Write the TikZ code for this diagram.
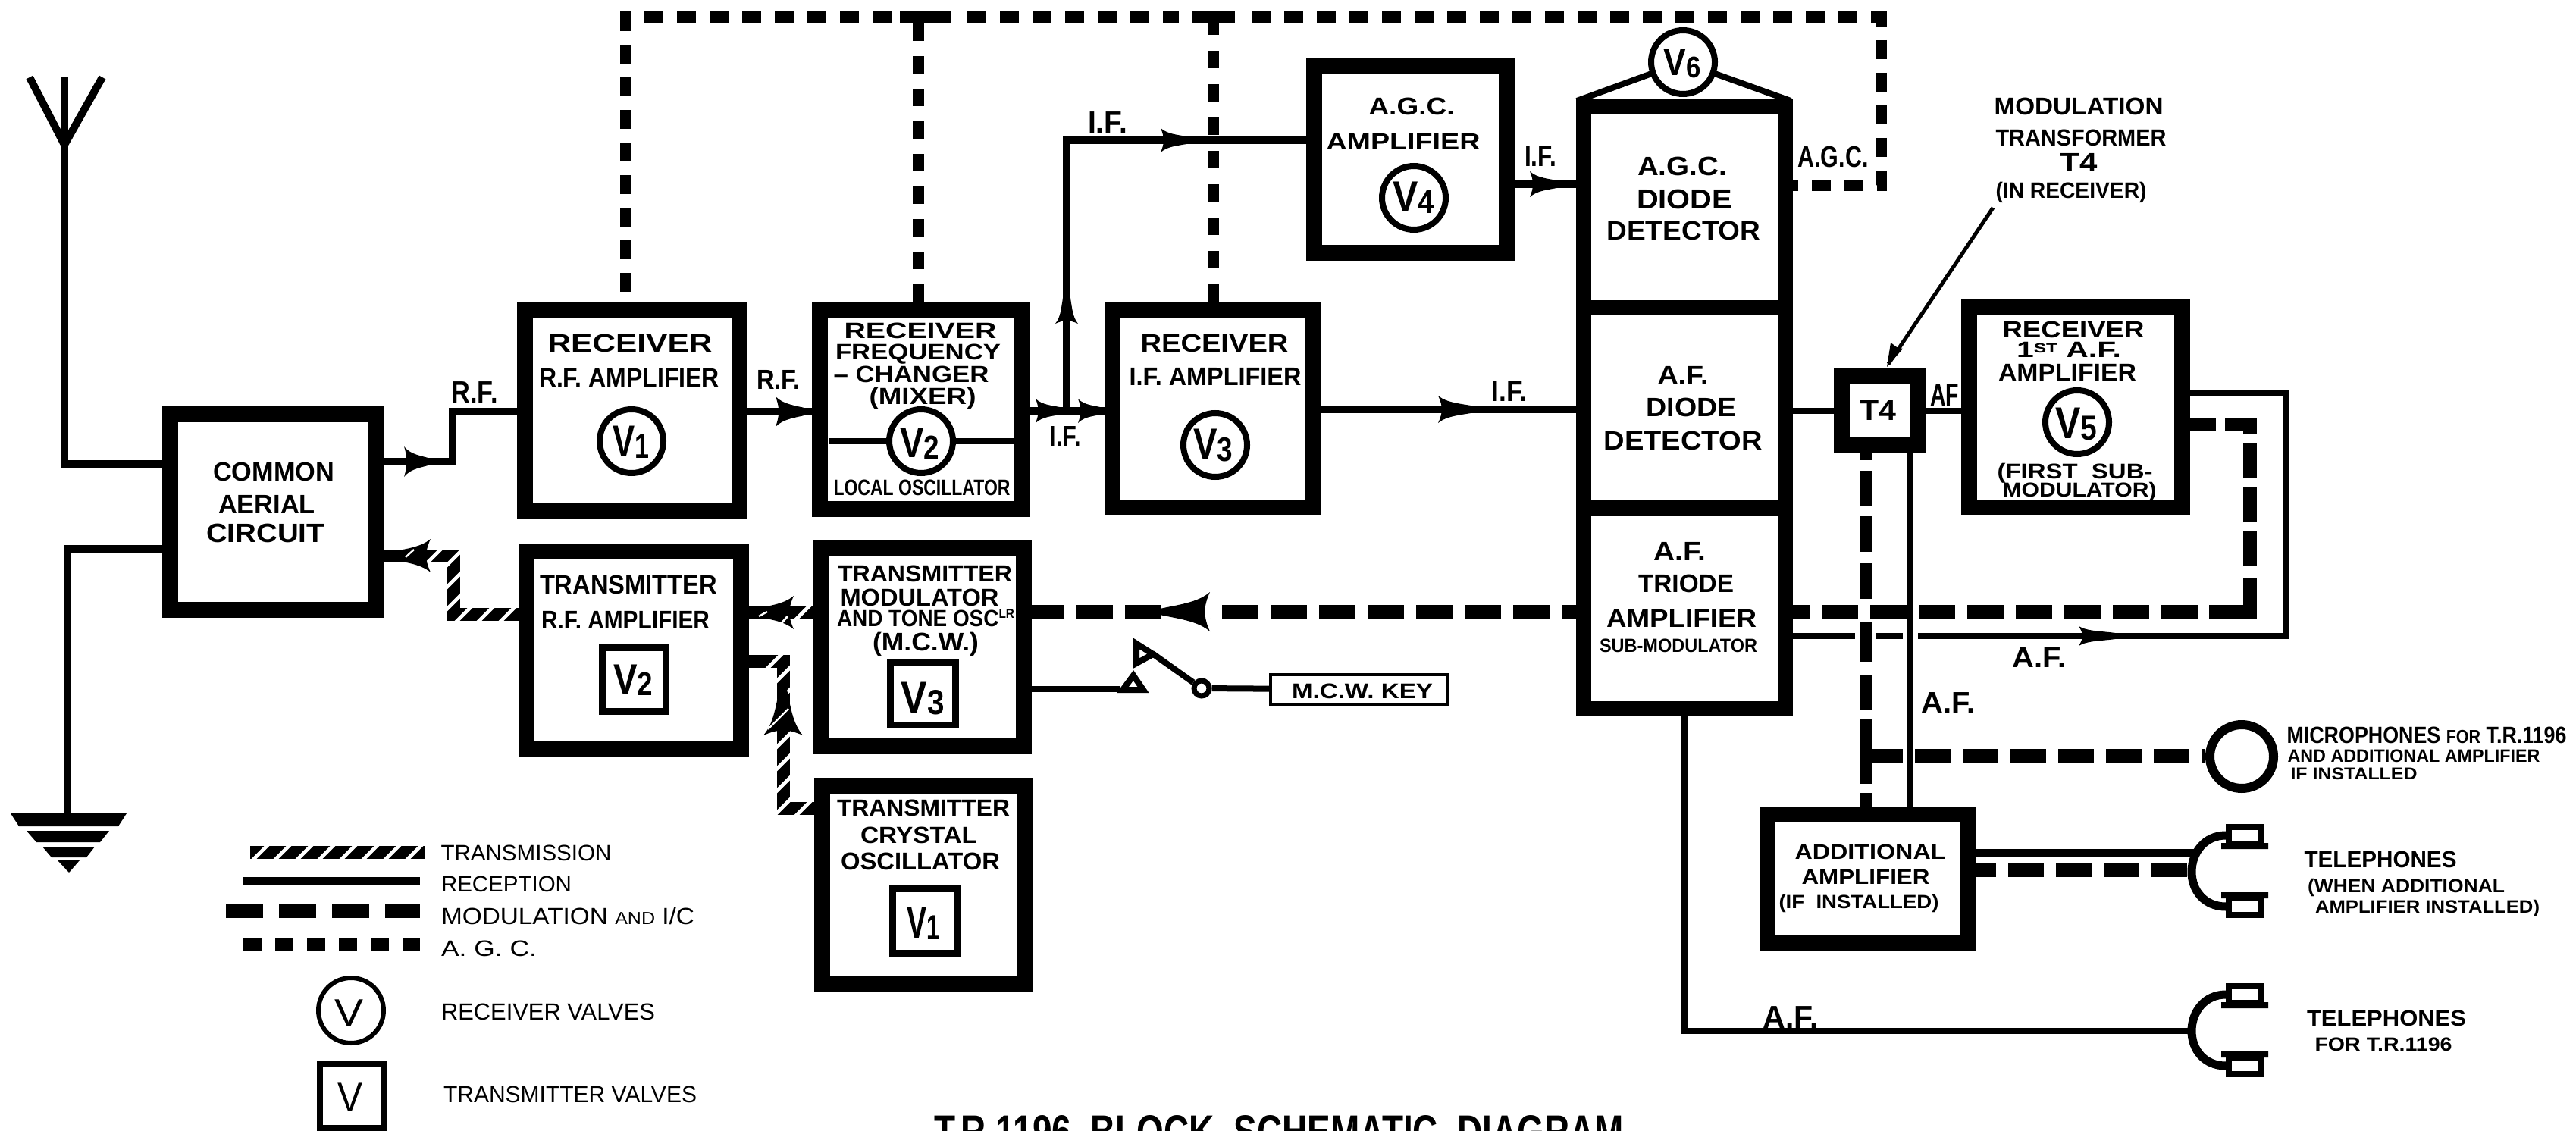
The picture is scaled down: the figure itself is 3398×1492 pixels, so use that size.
\documentclass[tikz,border=0pt]{standalone}
\usepackage{fontspec}
\usepackage{graphicx}
\setmainfont{Liberation Sans}
\usetikzlibrary{calc,decorations.markings}
\newsavebox\lbbox
\newcommand\wt[3]{\pgfmathsetmacro\fsz{#2*0.7}\sbox\lbbox{\fontsize{\fsz pt}{\fsz pt}\selectfont #3}\pgfmathsetmacro\sx{#1*0.5/\the\wd\lbbox}\scalebox{\sx}[1]{\usebox\lbbox}}
% label: [style]{name}{cx}{cy}{w}{h}{text}
\newcommand\lb[7][lbl]{\node[#1] (#2) at ({#3},{#4+#6/2}) {\wt{#5}{#6}{#7}};}
\newcommand\dg[1]{\raisebox{-.05em}{\scalebox{.78}{#1}}}
% box: [opts]{name}{x1}{y1}{x2}{y2}{border}
\newcommand\bx[7][]{\pgfmathsetmacro\bw{(#5-#3-#7)*.5}\pgfmathsetmacro\bh{(#6-#4-#7)*.5}\pgfmathsetmacro\bl{#7*.5}\node[blk,line width=\bl pt,minimum width=\bw pt,minimum height=\bh pt,#1] (#2) at ({(#3+#5)/2},{(#4+#6)/2}) {};}
\newcommand\vc[3]{\node[valve] (#1) at (#2,#3) {};}
% arrow head: tip x, tip y, angle, length, half width
\newcommand\arh[5]{\fill[shift={(#1,#2)},rotate=#3] (0,-4) .. controls ({-.35*#4},{-.2*#5-4}) and ({-.75*#4},{-.45*#5}) .. ({-#4},{-#5}) .. controls ({-.93*#4},{-.6*#5}) and ({-.9*#4},{-.3*#5}) .. ({-.9*#4},0) .. controls ({-.9*#4},{.3*#5}) and ({-.93*#4},{.6*#5}) .. ({-#4},{#5}) .. controls ({-.75*#4},{.45*#5}) and ({-.35*#4},{.2*#5+4}) .. (0,4) -- cycle;}
\newcommand\tel[2]{%
  \fill (2930,{#2-38}) rectangle (2992,{#2-30}) (2930,{#2+27}) rectangle (2992,{#2+35});
  \node[earbox] (#1u) at (2961,{#2-48}) {};
  \node[earbox] (#1d) at (2961,{#2+46}) {};
  \coordinate (#1c) at (2891,#2);
  \draw[line width=5.5pt] (#1u.west) .. controls (2908,{#2-48}) and (2891,{#2-25}) .. (#1c) .. controls (2891,{#2+25}) and (2908,{#2+46}) .. (#1d.west);
}
\tikzset{
  blk/.style={draw,fill=white,rectangle,inner sep=0pt},
  valve/.style={draw,fill=white,circle,inner sep=0pt,minimum size=42pt,line width=4pt},
  earbox/.style={draw,fill=white,rectangle,inner sep=0pt,minimum width=21pt,minimum height=11pt,line width=4pt},
  lbl/.style={inner sep=0pt,anchor=base,font=\bfseries},
  lgt/.style={inner sep=0pt,anchor=base},
  rx/.style={line width=5pt},
  thin line/.style={line width=4pt,line cap=butt},
  agc/.style={line width=7.5pt,line cap=butt,dash pattern=on 12.5pt off 9pt},
  agcbar/.style={line width=7.5pt,line cap=butt},
  mod/.style={line width=9pt,line cap=butt,dash pattern=on 24pt off 8pt},
  modbar/.style={line width=9pt,line cap=butt},
  txline/.style={line width=8.5pt,line cap=butt,postaction={decorate},decoration={markings,mark=between positions 7pt and -7pt step 14.5pt with {\pgftransformresetnontranslations\draw[white,line width=2.4pt] (-11,11)--(11,-11);}}},
}
\begin{document}
\begin{tikzpicture}[x=0.5pt,y=-0.5pt,line cap=butt]
\useasboundingbox (0,0) rectangle (3398,1492);
\clip (0,0) rectangle (3398,1492);
\fill[white] (0,0) rectangle (3398,1492);
%----- blocks
\bx{ca}{214}{536}{506}{815}{21}
\bx{rfa}{682}{399}{986}{684}{21}
\bx{chg}{1071}{398}{1359}{682}{21}
\bx{ifa}{1457}{398}{1743}{680}{21}
\bx{agca}{1723}{76}{1998}{344}{21}
\bx{txrf}{684}{717}{988}{998}{21}
\bx{txmod}{1073}{713}{1361}{995}{21}
\bx{xtal}{1074}{1026}{1362}{1308}{21}
\bx{tfour}{2419}{486}{2541}{597}{21}
\bx{vfive}{2587}{394}{2889}{680}{21}
\bx{addamp}{2322}{1065}{2606}{1254}{20}
\bx[line width=2pt]{key}{1674}{888}{1912}{931}{4}
% stack with V6 roof
\coordinate (roofl) at (2080,133);
\coordinate (roofr) at (2362,133);
\coordinate (vsixc) at (2220,82);
\draw[line width=4pt] (roofl) -- (vsixc) -- (roofr);
\bx{agcdet}{2079}{131}{2365}{416}{20}
\bx{afdet}{2079}{396}{2365}{679}{20}
\bx{triode}{2079}{661}{2365}{945}{20}
\vc{vsix}{2220}{82}
%----- valve symbols
\draw[line width=4pt] (1094,582) -- (1339,582);
\vc{vone}{833}{582}
\vc{vtwo}{1215}{582}
\vc{vthree}{1603}{587}
\vc{vfour}{1865}{261}
\vc{vfiv}{2740}{557}
\bx{stwo}{790}{850}{883}{943}{9}
\bx{sthree}{1170}{869}{1265}{961}{9}
\bx{sone}{1173}{1168}{1267}{1262}{9}
%----- aerial and earth
\coordinate (aertop) at (85,102);
\coordinate (aerl) at (39,102);
\coordinate (aerr) at (135,102);
\coordinate (aerj) at (85,191);
\coordinate (earthtop) at (89,1073);
\draw[line width=5pt] (aerl) -- (aerj) -- (aerr);
\draw[line width=5pt] (aertop) -- (aerj) |- (ca.west |- 0,612);
\draw[rx] (ca.west |- 0,724) -| (earthtop);
\fill (14,1073) -- (167,1073) -- (156,1090) -- (25,1090) -- cycle;
\fill (35,1096) -- (144,1096) -- (132,1111) -- (48,1111) -- cycle;
\fill (56,1117) -- (125,1117) -- (114,1131) -- (68,1131) -- cycle;
\fill (76,1135) -- (105,1135) -- (91,1151) -- cycle;
%----- reception connectors
\coordinate (rfj) at (597,609);
\draw[rx] (ca.east |- 0,609) -- (rfj) |- (rfa.west |- 0,543);
\arh{568}{609}{0}{35}{20}
\draw[rx] (rfa.east |- 0,543) -- (chg.west |- 0,543);
\arh{1065}{543}{0}{42}{20}
\draw[rx] (chg.east |- 0,542) -- (ifa.west |- 0,542);
\arh{1402}{542}{0}{36}{16}
\arh{1455}{542}{0}{33}{16}
\coordinate (ifj) at (1407,542);
\coordinate (ifc) at (1407,185);
\draw[rx] (ifj) -- (ifc) -- (agca.west |- ifc);
\arh{1407}{388}{90}{39}{15}
\arh{1570}{185}{0}{39}{16}
\draw[rx] (agca.east |- 0,243) -- (agcdet.west |- 0,243);
\arh{2058}{243}{0}{40}{17}
\draw[rx] (ifa.east |- 0,540) -- (afdet.west |- 0,540);
\arh{1945}{540}{0}{48}{18}
\draw[thin line] (afdet.east |- 0,542) -- (tfour.west |- 0,542);
\draw[thin line] (tfour.east |- 0,542) -- (vfive.west |- 0,542);
\coordinate (afc) at (3016,839);
\draw[thin line,dash pattern=on 41pt off 14pt on 17.5pt off 10pt on 600pt off 1pt] (triode.east |- 0,839) -- (afc) |- (vfive.east |- 0,518);
\arh{2790}{839}{0}{48}{13}
\coordinate (tfl) at (2519,597);
\draw[thin line] (tfl) -- (tfl |- addamp.north);
\tel{telb}{1150}
\tel{telc}{1360}
\draw[thin line] (triode.south) |- (telcc);
\coordinate (telbj) at (2897,1125);
\draw[rx] (addamp.east |- telbj) -- (telbj);
%----- A.G.C. ring
\coordinate (agctl) at (825,23);
\coordinate (agctr) at (2481,23);
\coordinate (agcbr) at (2481,245);
\coordinate (jla) at (1187,23);
\coordinate (jlb) at (1254,23);
\coordinate (jlm) at (1211,23);
\coordinate (jlc) at (1276,23);
\coordinate (jld) at (1555,23);
\coordinate (jra) at (1572,23);
\coordinate (jrb) at (1629,23);
\coordinate (jrc) at (1651,23);
\draw[agc,dash phase=14.5pt] (agctl |- rfa.north) -- (agctl) -- (jla);
\draw[agcbar] (jla) -- (jlb);
\draw[agc,dash pattern=on 11.5pt off 10pt] (jlm |- chg.north) -- (jlm);
\draw[agc] (jlc) -- (jld);
\draw[agcbar] (jra) -- (jrb);
\draw[agc,dash pattern=on 11.5pt off 10.5pt] (ifa.north) -- (ifa.north |- jra);
\draw[agc] (jrc) -- (agctr) -- (agcbr) -- (agcdet.east |- agcbr);
%----- modulation lines
\coordinate (modc) at (2968,807);
\coordinate (mode) at (2914,807);
\coordinate (modu) at (2968,763);
\coordinate (modv) at (2968,747);
\coordinate (modt) at (2968,560);
\draw[mod,dash phase=14.5pt] (triode.west |- modc) -- (txmod.east |- modc);
\fill[white] (1538,790) rectangle (1596,825);
\arh{1530}{807}{180}{66}{26}
\draw[mod,dash phase=13pt] (triode.east |- modc) -- (mode);
\draw[modbar] (mode) -- (modc) -- (modu);
\draw[mod,dash pattern=on 23pt off 6pt] (modv) -- (modt) -- (vfive.east |- modt);
\coordinate (modva) at (2461,597);
\draw[line width=8.5pt,dash pattern=on 5pt off 7pt on 23.5pt off 6.5pt on 23.5pt off 7.5pt on 23.5pt off 15.5pt on 26pt off 8.5pt on 23pt off 6.5pt on 42.5pt off 6pt on 10pt] (modva) -- (modva |- addamp.north);
\coordinate (micj) at (2463,997);
\node[draw,fill=white,circle,inner sep=0pt,minimum size=42pt,line width=6pt] (mic) at (2957,998) {};
\draw[mod,line width=9.5pt,dash pattern=on 23.5pt off 8pt] (micj) -- (mic.west |- micj);
\coordinate (telbk) at (2893,1148);
\draw[mod,dash pattern=on 23.5pt off 8pt,dash phase=10pt] (addamp.east |- telbk) -- (telbk);
%----- transmission lines
\coordinate (ta) at (598,810);
\coordinate (tb) at (598,733);
\coordinate (tc) at (1033,1066);
\coordinate (td) at (1033,872);
\draw[txline] (txrf.west |- ta) -- (ta) -- (tb) -- (ca.east |- tb);
\draw[txline] (txmod.west |- 0,808) -- (txrf.east |- 0,808);
\draw[txline] (xtal.west |- tc) -- (tc) -- (td) -- (txrf.east |- td);
\arh{510}{733}{180}{58}{22}
\arh{990}{808}{180}{57}{22}
\arh{1033}{905}{90}{65}{26}
\draw[white,line width=1.2pt] (535,735) -- (546,725);
\draw[white,line width=1.2pt] (1001,813) -- (1012,807);
\draw[white,line width=1.4pt] (1030,823) -- (1039,813);
\draw[white,line width=1.2pt] (1013,962) -- (1040,935);
%----- M.C.W. key
\coordinate (swa) at (1477,909);
\node[draw,fill=white,circle,inner sep=0pt,minimum size=10pt,line width=3.5pt] (swc) at (1585,908) {};
\coordinate (swb) at (1520,862);
\draw[line width=4pt] (txmod.east |- swa) -- (swa);
\draw[line width=4pt,line join=miter] (1481,910) -- (1508,910) -- (1495,891) -- cycle;
\draw[line width=4pt,line join=miter] (1499,849) -- (1499,875) -- (1521,863) -- cycle;
\draw[line width=4pt] (swb) -- (swc);
\draw[line width=4pt] (swc) -- (key);
%----- pointer
\coordinate (ptr) at (2629,274);
\draw[line width=2.5pt] (ptr) -- (2491,480);
\fill (2489,484) -- (2494,452) -- (2502,458) -- (2510,460) -- cycle;
%----- labels in blocks
\lb{l1}{361}{622}{160}{25}{COMMON}
\lb{l2}{352}{665}{128}{25}{AERIAL}
\lb{l3}{350}{703}{156}{25}{CIRCUIT}
\lb{l4}{831}{453}{217}{24}{RECEIVER}
\lb{l5}{830}{498}{238}{25}{R.F. AMPLIFIER}
\lb{vl1}{832}{581}{48}{42}{V\dg{1}}
\lb{l6}{829}{771}{234}{25}{TRANSMITTER}
\lb{l7}{825}{817}{222}{24}{R.F. AMPLIFIER}
\lb{vl2}{835}{895}{52}{40}{V\dg{2}}
\lb{l8}{1214}{436}{201}{21}{RECEIVER}
\lb{l9}{1211}{464}{218}{21}{FREQUENCY}
\lb{l10}{1202}{493}{205}{22}{– CHANGER}
\lb{l11}{1217}{522}{141}{22}{(MIXER)}
\lb{vl3}{1213}{583}{52}{40}{V\dg{2}}
\lb{l12}{1216}{643}{233}{21}{LOCAL OSCILLATOR}
\lb{l13}{1602}{452}{195}{24}{RECEIVER}
\lb{l14}{1603}{496}{227}{24}{I.F. AMPLIFIER}
\lb{vl4}{1600}{585}{52}{41}{V\dg{3}}
\lb{l15}{1862}{140}{113}{23}{A.G.C.}
\lb{l16}{1851}{187}{203}{22}{AMPLIFIER}
\lb{vl5}{1865}{259}{55}{40}{V\dg{4}}
\lb{l17}{1220}{756}{230}{22}{TRANSMITTER}
\lb{l18}{1213}{788}{209}{23}{MODULATOR}
\lb{l19}{1221}{815}{234}{22}{AND TONE OSC\raisebox{.35em}{\scalebox{.55}{LR}}}
\lb{l20}{1221}{846}{140}{24}{(M.C.W.)}
\lb{vl6}{1217}{919}{57}{42}{V\dg{3}}
\lb{l21}{1218}{1065}{228}{22}{TRANSMITTER}
\lb{l22}{1212}{1101}{154}{22}{CRYSTAL}
\lb{l23}{1214}{1136}{210}{23}{OSCILLATOR}
\lb{vl7}{1218}{1216}{43}{42}{V\dg{1}}
\lb{l24}{1797}{911}{186}{20}{M.C.W. KEY}
\lb{l25}{2219}{219}{118}{25}{A.G.C.}
\lb{l26}{2222}{263}{126}{26}{DIODE}
\lb{l27}{2221}{304}{203}{25}{DETECTOR}
\lb{l28}{2220}{494}{67}{24}{A.F.}
\lb{l29}{2231}{537}{119}{25}{DIODE}
\lb{l30}{2220}{581}{209}{25}{DETECTOR}
\lb{l31}{2216}{727}{69}{25}{A.F.}
\lb{l32}{2224}{769}{126}{24}{TRIODE}
\lb{l33}{2218}{815}{198}{24}{AMPLIFIER}
\lb{l34}{2214}{851}{208}{18}{SUB-MODULATOR}
\lb{vl8}{2219}{82}{49}{36}{V\dg{6}}
\lb{l35}{2477}{541}{48}{27}{T4}
\lb{l36}{2735}{434}{187}{22}{RECEIVER}
\lb{l37}{2729}{461}{138}{21}{1\raisebox{.22em}{\scalebox{.6}{ST}} A.F.}
\lb{l38}{2727}{491}{182}{23}{AMPLIFIER}
\lb{vl9}{2739}{557}{55}{42}{V\dg{5}}
\lb{l39}{2737}{621}{205}{20}{(FIRST\ \ SUB-}
\lb{l40}{2743}{646}{203}{19}{MODULATOR)}
\lb{l41}{2467}{1123}{199}{20}{ADDITIONAL}
\lb{l42}{2461}{1156}{169}{20}{AMPLIFIER}
\lb{l43}{2452}{1189}{211}{18}{(IF\ \ INSTALLED)}
%----- signal labels
\lb{s1}{626}{517}{61}{29}{R.F.}
\lb{s2}{1027}{500}{58}{26}{R.F.}
\lb{s3}{1461}{161}{52}{29}{I.F.}
\lb{s4}{1405}{575}{41}{27}{I.F.}
\lb{s5}{2032}{206}{42}{28}{I.F.}
\lb{s6}{1991}{516}{47}{27}{I.F.}
\lb{s7}{2418}{207}{93}{28}{A.G.C.}
\lb{s8}{2565}{520}{38}{30}{AF}
\lb{s9}{2690}{867}{71}{27}{A.F.}
\lb{s10}{2570}{926}{71}{28}{A.F.}
\lb{s11}{2362}{1341}{73}{30}{A.F.}
%----- notes on the right
\lb{n1}{2742}{140}{223}{23}{MODULATION}
\lb{n2}{2745}{182}{225}{22}{TRANSFORMER}
\lb{n3}{2742}{214}{49}{25}{T4}
\lb{n4}{2732}{251}{199}{21}{(IN RECEIVER)}
\lb{n5}{3201}{969}{369}{22}{MICROPHONES {\scalebox{.8}{FOR}} T.R.1196}
\lb{n6}{3184}{997}{333}{17}{AND ADDITIONAL AMPLIFIER}
\lb{n7}{3105}{1020}{167}{16}{IF INSTALLED}
\lb{n8}{3140}{1133}{201}{22}{TELEPHONES}
\lb{n9}{3174}{1168}{260}{18}{(WHEN ADDITIONAL}
\lb{n10}{3202}{1196}{296}{17}{AMPLIFIER INSTALLED)}
\lb{n11}{3148}{1343}{210}{21}{TELEPHONES}
\lb{n12}{3144}{1377}{181}{18}{FOR T.R.1196}
%----- legend
\coordinate (la) at (330,1124);
\coordinate (lb) at (561,1124);
\coordinate (lc) at (321,1162);
\coordinate (ld) at (554,1162);
\coordinate (le) at (298,1202);
\coordinate (lf) at (554,1202);
\coordinate (lg) at (321,1246);
\coordinate (lh) at (554,1246);
\draw[txline] (la) -- (lb);
\draw[line width=5.5pt] (lc) -- (ld);
\draw[mod,dash pattern=on 24.5pt off 10.5pt] (le) -- (lf);
\draw[line width=9pt,dash pattern=on 12pt off 9pt] (lg) -- (lh);
\lb[lgt]{t1}{694}{1125}{225}{21}{TRANSMISSION}
\lb[lgt]{t2}{668}{1166}{172}{21}{RECEPTION}
\lb[lgt]{t3}{749}{1208}{334}{22}{MODULATION {\scalebox{.75}{AND}} I/C}
\lb[lgt]{t4}{645}{1251}{126}{21}{A. G. C.}
\node[draw,circle,inner sep=0pt,minimum size=43pt,line width=3pt] (lgc) at (463,1333) {};
\lb[lgt]{t5}{460}{1335}{38}{36}{V}
\lb[lgt]{t6}{723}{1334}{282}{22}{RECEIVER VALVES}
\node[draw,rectangle,inner sep=0pt,minimum width=42.5pt,minimum height=42.5pt,line width=4pt] (lgs) at (464.5,1445) {};
\lb[lgt]{t7}{462}{1447}{33}{39}{V}
\lb[lgt]{t8}{752}{1443}{334}{22}{TRANSMITTER VALVES}
%----- title (cut by the lower edge)
\lb{title}{1687}{1492}{910}{44}{T.R.1196\ \ BLOCK\ \ SCHEMATIC\ \ DIAGRAM}
\end{tikzpicture}
\end{document}
